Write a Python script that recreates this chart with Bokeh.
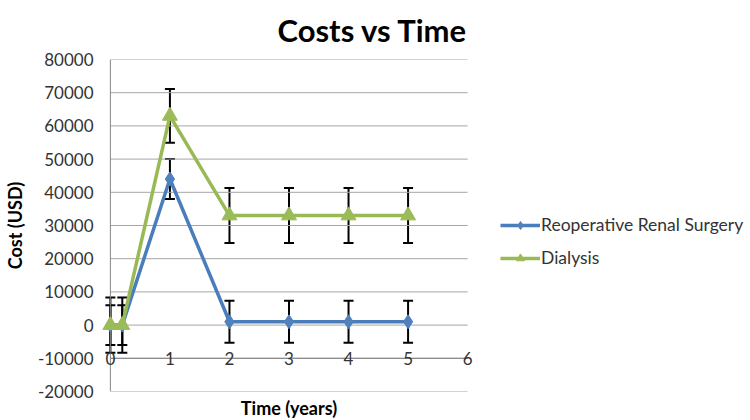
from bokeh.plotting import figure
from bokeh.models import ColumnDataSource, Legend, LegendItem, Range1d, FixedTicker, Whisker, Title
from bokeh.core.properties import value
from bokeh.embed import file_html
from bokeh.resources import INLINE

# ---- data ----
time_years = [0, 0.2, 1, 2, 3, 4, 5]
surgery_cost = [0, 0, 44000, 1000, 1000, 1000, 1000]
surgery_err = [6000, 6000, 6000, 6300, 6300, 6300, 6300]
dialysis_cost = [0, 0, 63000, 33000, 33000, 33000, 33000]
dialysis_err = [8300, 8300, 8100, 8300, 8300, 8300, 8300]
x_ticks = [0, 1, 2, 3, 4, 5, 6]
y_ticks = [-20000, -10000, 0, 10000, 20000, 30000, 40000, 50000, 60000, 70000, 80000]
x_label_level = -10000

FONT = "Lato"
BLUE_LINE = "#4A7EBB"
BLUE_MARK = "#4F81BD"
GREEN_LINE = "#98B954"
GREEN_MARK = "#9BBB59"

p = figure(frame_width=387, frame_height=332, output_backend="svg", toolbar_location=None,
           x_range=Range1d(-0.25, 6.25), y_range=Range1d(-20000, 80000),
           min_border_left=85, min_border_right=0, min_border_top=59, min_border_bottom=21)
p.outline_line_color = None
p.background_fill_color = "white"

p.title = Title(text="Costs vs Time", align="left", vertical_align="top", text_font=FONT,
                text_font_size="31px", text_font_style="bold", text_color="black",
                offset=182, standoff=18)

# y axis (labels only; its line is drawn at x = 0 below)
p.yaxis.ticker = FixedTicker(ticks=y_ticks)
p.yaxis.major_label_overrides = {t: str(t) for t in y_ticks}
p.yaxis.major_label_text_font = FONT
p.yaxis.major_label_text_font_size = "17px"
p.yaxis.major_label_text_color = "#333333"
p.yaxis.major_tick_line_color = None
p.yaxis.minor_tick_line_color = None
p.yaxis.axis_line_color = None
p.yaxis.major_label_standoff = -4
p.yaxis.axis_label = "Cost (USD)"
p.yaxis.axis_label_text_font = FONT
p.yaxis.axis_label_text_font_size = "18px"
p.yaxis.axis_label_text_font_style = "bold"
p.yaxis.axis_label_text_color = "black"
p.yaxis.axis_label_standoff = 9

# bottom x axis: only its title; tick labels drawn at the crossing level
xa = p.below[0]
xa.ticker = FixedTicker(ticks=[])
xa.major_label_standoff = 0
xa.major_tick_line_color = None
xa.minor_tick_line_color = None
xa.axis_line_color = None
xa.axis_label = "Time (years)"
xa.axis_label_text_font = FONT
xa.axis_label_text_font_size = "18px"
xa.axis_label_text_font_style = "bold"
xa.axis_label_text_color = "black"
xa.axis_label_standoff = 5

p.xgrid.grid_line_color = None
p.ygrid.grid_line_color = None

# gridlines spanning the x-axis range, vertical axis at x = 0, horizontal axis at the crossing level
p.segment(x0=[x_ticks[0]] * len(y_ticks), x1=[x_ticks[-1]] * len(y_ticks), y0=y_ticks, y1=y_ticks,
          line_color="#A6A6A6", line_width=1)
p.line(x=[x_ticks[0], x_ticks[-1]], y=[x_label_level, x_label_level], line_color="#808080", line_width=1)
p.line(x=[x_ticks[0], x_ticks[0]], y=[y_ticks[0], y_ticks[-1]], line_color="#868686", line_width=1)

src_s = ColumnDataSource(dict(x=time_years, y=surgery_cost,
                              lo=[c - e for c, e in zip(surgery_cost, surgery_err)],
                              hi=[c + e for c, e in zip(surgery_cost, surgery_err)]))
src_d = ColumnDataSource(dict(x=time_years, y=dialysis_cost,
                              lo=[c - e for c, e in zip(dialysis_cost, dialysis_err)],
                              hi=[c + e for c, e in zip(dialysis_cost, dialysis_err)]))

ls = p.line("x", "y", source=src_s, line_color=BLUE_LINE, line_width=3.5)
ms = p.scatter("x", "y", source=src_s, marker="diamond", size=14, fill_color=BLUE_MARK, line_color=BLUE_MARK)
ld = p.line("x", "y", source=src_d, line_color=GREEN_LINE, line_width=3.5)
md = p.scatter("x", "y", source=src_d, marker="triangle", size=15, fill_color=GREEN_MARK, line_color=GREEN_MARK)

for src in (src_s, src_d):
    w = Whisker(source=src, base="x", upper="hi", lower="lo", line_color="black", line_width=2)
    w.upper_head.size = 10
    w.lower_head.size = 10
    w.upper_head.line_width = 2
    w.lower_head.line_width = 2
    w.upper_head.line_color = "black"
    w.lower_head.line_color = "black"
    p.add_layout(w)

p.text(x=x_ticks, y=[x_label_level] * len(x_ticks), text=[str(t) for t in x_ticks],
       text_font=value(FONT), text_font_size="17px", text_color="#333333",
       text_align="center", text_baseline="middle")

legend = Legend(items=[LegendItem(label="Reoperative Renal Surgery", renderers=[ls, ms]),
                       LegendItem(label="Dialysis", renderers=[ld, md])],
                location=(18, 123), glyph_width=40, glyph_height=20, label_standoff=1,
                spacing=12, padding=0, margin=0, border_line_color=None, background_fill_alpha=0,
                label_text_font=FONT, label_text_font_size="17.5px", label_text_color="#333333")
p.add_layout(legend, "right")

open("out.html", "w").write(file_html(p, INLINE))
